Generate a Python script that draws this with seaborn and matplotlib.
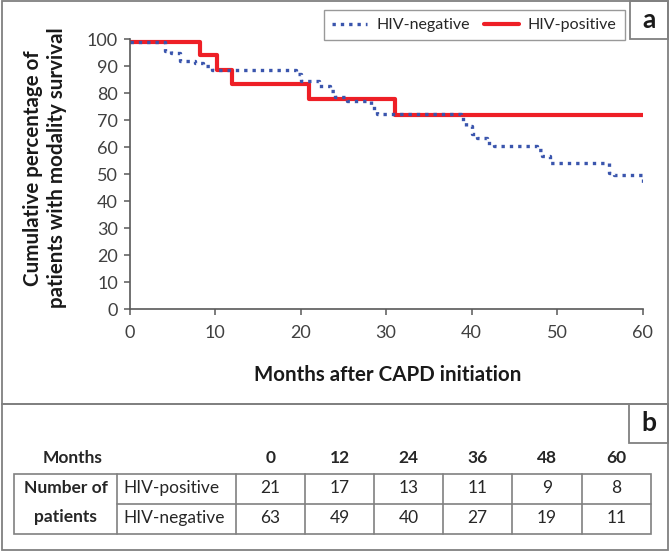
import numpy as np
import pandas as pd
import matplotlib
matplotlib.use("Agg")
import matplotlib.pyplot as plt
from matplotlib.patches import Rectangle
import seaborn as sns

# Kaplan-Meier steps (month, % surviving on modality)
neg_months = [0, 4.2, 4.9, 5.9, 7.7, 8.6, 9.6, 19.5, 20.1, 22.2, 23.4, 24.0, 25.4,
              28.3, 29.0, 38.8, 39.3, 40.0, 40.6, 41.8, 42.6, 47.7, 48.3, 49.2,
              56.1, 56.7, 60.0, 60.0]
neg_surv = [99, 95.5, 94.8, 92.1, 91.3, 90.1, 88.6, 87.2, 84.7, 82.6, 80.7, 78.5, 77.0,
            74.5, 72.2, 70.4, 67.9, 64.8, 63.6, 61.7, 60.5, 59.0, 56.8, 54.1,
            50.6, 49.7, 47.6, 45.8]
pos_months = [0, 8.2, 10.2, 12.0, 21.0, 31.0, 60.0]
pos_surv = [99, 94.3, 88.8, 83.6, 77.9, 72.1, 72.1]

# numbers at risk table
table_months = [0, 12, 24, 36, 48, 60]
at_risk_pos = [21, 17, 13, 11, 9, 8]
at_risk_neg = [63, 49, 40, 27, 19, 11]

BLUE = "#3a55ad"
RED = "#ee1f26"
GRAY = "#808080"
DARK = "#595959"

sns.set_style("ticks")
plt.rcParams["font.family"] = ["Lato", "DejaVu Sans"]

W, H = 670, 551
fig = plt.figure(figsize=(W / 100, H / 100), dpi=100)

# pixel helper -> figure fraction
def fx(x):
    return x / W

def fy(y):
    return 1 - y / H

ax = fig.add_axes([fx(129.5), fy(309.3), (642.5 - 129.5) / W, (309.3 - 39.3) / H])
ax.set_facecolor("none")

df_pos = pd.DataFrame({"month": pos_months, "survival": pos_surv})
df_neg = pd.DataFrame({"month": neg_months, "survival": neg_surv})

sns.lineplot(data=df_pos, x="month", y="survival", ax=ax, estimator=None, sort=False,
             drawstyle="steps-post", color=RED, linewidth=3.0, label="HIV-positive")
sns.lineplot(data=df_neg, x="month", y="survival", ax=ax, estimator=None, sort=False,
             drawstyle="steps-post", color=BLUE, linewidth=2.4,
             linestyle=(0, (1, 1.5)), label="HIV-negative")

ax.set_xlim(0, 60)
ax.set_ylim(0, 100)
ax.set_xticks(np.arange(0, 61, 10))
ax.set_yticks(np.arange(0, 101, 10))
ax.set_xlabel("")
ax.set_ylabel("")
sns.despine(ax=ax)
for s in ["left", "bottom"]:
    ax.spines[s].set_color(DARK)
    ax.spines[s].set_linewidth(1.2)
ax.tick_params(axis="both", colors=DARK, labelcolor="#404040", labelsize=13,
               length=4.3, width=1.1, direction="out")
ax.tick_params(axis="x", pad=7)
ax.tick_params(axis="y", pad=4)

handles, labels = ax.get_legend_handles_labels()
order = [1, 0]
leg = ax.legend([handles[i] for i in order], [labels[i] for i in order],
                loc="center", bbox_to_anchor=(fx(474.5), fy(25)),
                bbox_transform=fig.transFigure, ncol=2,
                frameon=True, fancybox=False, edgecolor=GRAY, fontsize=11.5,
                handlelength=2.2, handletextpad=0.55, columnspacing=0.9,
                borderpad=0.5, borderaxespad=0)
leg.get_frame().set_linewidth(1.0)
for t in leg.get_texts():
    t.set_color("#262626")

fig.text(fx(45), fy(168), "Cumulative percentage of\npatients with modality survival",
         rotation=90, ha="center", va="center", fontsize=14.8, fontweight="bold",
         linespacing=1.3, color="#1a1a1a")
fig.text(fx(388), fy(375), "Months after CAPD initiation", ha="center", va="center",
         fontsize=14.8, fontweight="bold", color="#1a1a1a")

# overlay in pixel coordinates for frames and the at-risk table
ov = fig.add_axes([0, 0, 1, 1], zorder=-1)
ov.set_xlim(0, W)
ov.set_ylim(H, 0)
ov.axis("off")

def box(x0, y0, x1, y1, lw=1.3):
    ov.add_patch(Rectangle((x0, y0), x1 - x0, y1 - y0, fill=False, edgecolor=GRAY, linewidth=lw))

box(2, 1, 668, 404)
box(2, 404, 668, 550)
box(630, 1, 668, 39)
box(629, 404, 668, 443)
ov.text(649, 20, "a", ha="center", va="center", fontsize=19, fontweight="bold", color="#1a1a1a")
ov.text(649, 423, "b", ha="center", va="center", fontsize=19, fontweight="bold", color="#1a1a1a")

col_edges = [14.3, 116.7, 235.7, 305, 374, 443, 512.3, 581.7, 651]
row_edges = [474.3, 504, 534]
tcol = "#262626"
tfs = 12.5

# table grid
ov.add_patch(Rectangle((col_edges[0], row_edges[0]), col_edges[-1] - col_edges[0],
                       row_edges[-1] - row_edges[0], fill=False, edgecolor=GRAY, linewidth=1.2))
for x in col_edges[1:-1]:
    ov.plot([x, x], [row_edges[0], row_edges[-1]], color=GRAY, lw=1.2)
ov.plot([col_edges[1], col_edges[-1]], [row_edges[1], row_edges[1]], color=GRAY, lw=1.2)

ov.text(73, 457.7, "Months", ha="center", va="center", fontsize=tfs, fontweight="bold", color=tcol)
ov.text(65.5, 488, "Number of", ha="center", va="center", fontsize=tfs, fontweight="bold", color=tcol)
ov.text(65.5, 517, "patients", ha="center", va="center", fontsize=tfs, fontweight="bold", color=tcol)
ov.text(123, 488, "HIV-positive", ha="left", va="center", fontsize=tfs, color=tcol)
ov.text(123, 518, "HIV-negative", ha="left", va="center", fontsize=tfs, color=tcol)

centers = [(col_edges[i] + col_edges[i + 1]) / 2 for i in range(2, 8)]
for cx, m, p, n in zip(centers, table_months, at_risk_pos, at_risk_neg):
    ov.text(cx, 457.7, str(m), ha="center", va="center", fontsize=tfs, fontweight="bold", color=tcol)
    ov.text(cx, 488, str(p), ha="center", va="center", fontsize=tfs, color=tcol)
    ov.text(cx, 518, str(n), ha="center", va="center", fontsize=tfs, color=tcol)

fig.savefig("out.png", dpi=100)
